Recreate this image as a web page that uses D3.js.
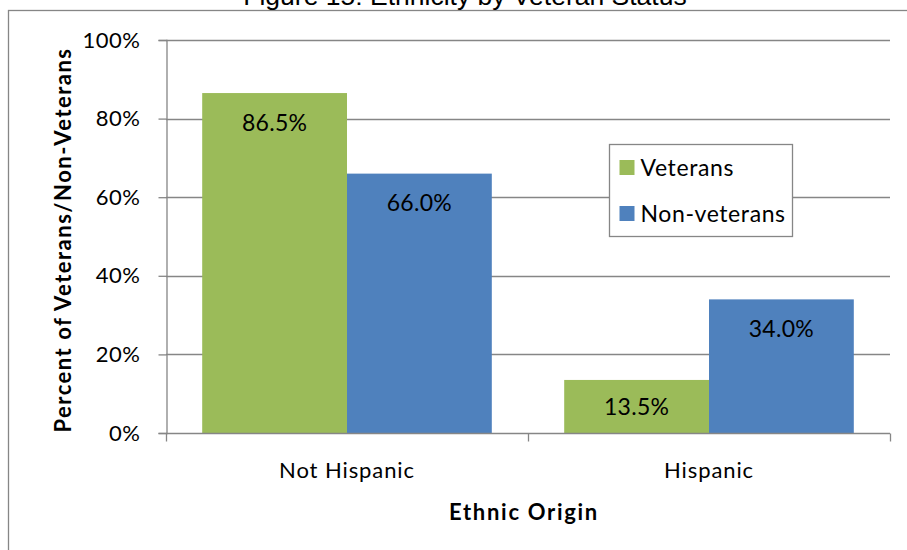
<!DOCTYPE html>
<html>
<head>
<meta charset="utf-8">
<script src="https://cdn.jsdelivr.net/npm/d3@7/dist/d3.min.js"></script>
<style>
  html, body { margin: 0; padding: 0; background: #fff; }
  svg { display: block; }
  text { font-family: Lato, "Open Sans", sans-serif; fill: #000; }
</style>
</head>
<body>
<svg id="chart" width="907" height="550"></svg>
<script>
// Share of each ethnic origin group, by veteran status
const categories = ["Not Hispanic", "Hispanic"];
const seriesNames = ["Veterans", "Non-veterans"];
const veterans = [86.5, 13.5];
const nonVeterans = [66.0, 34.0];
const yTicks = [0, 20, 40, 60, 80, 100];
const titleText = "Figure 15: Ethnicity by Veteran Status";
const yAxisTitle = "Percent of Veterans/Non-Veterans";
const xAxisTitle = "Ethnic Origin";

const colors = { "Veterans": "#9BBB59", "Non-veterans": "#4F81BD" };
const gridColor = "#868686";

const svg = d3.select("#chart");

// outer chart frame
svg.append("rect")
  .attr("x", 8.5).attr("y", 10.5)
  .attr("width", 1000).attr("height", 1000)
  .attr("fill", "none").attr("stroke", gridColor).attr("stroke-width", 1.3);

// title (partly clipped at the top edge)
svg.append("text")
  .attr("x", 465).attr("y", 5)
  .attr("text-anchor", "middle")
  .style("font-family", "'Liberation Sans', Arial, sans-serif")
  .style("font-size", "26.5px")
  .text(titleText);

const plot = { left: 166, right: 890, top: 40, bottom: 433 };

const y = d3.scaleLinear().domain([0, 100]).range([plot.bottom, plot.top]);
const x0 = d3.scaleBand().domain(categories).range([plot.left, plot.right]).padding(0);
const x1 = d3.scaleBand().domain(seriesNames)
  .range([x0.bandwidth() * 0.1, x0.bandwidth() * 0.9]).padding(0);

// horizontal gridlines
svg.append("g")
  .selectAll("line")
  .data(yTicks.filter(d => d > 0))
  .join("line")
  .attr("x1", plot.left).attr("x2", plot.right)
  .attr("y1", d => Math.round(y(d)) + 0.5).attr("y2", d => Math.round(y(d)) + 0.5)
  .attr("stroke", gridColor).attr("stroke-width", 1.3);

// y axis
const yAxis = svg.append("g")
  .attr("transform", `translate(${plot.left + 0.5},0)`)
  .call(d3.axisLeft(y).tickValues(yTicks).tickFormat(d => d + "%").tickSize(8).tickPadding(18));
yAxis.select(".domain").attr("stroke", gridColor).attr("stroke-width", 1.3);
yAxis.selectAll(".tick line").attr("stroke", gridColor).attr("stroke-width", 1.3);
yAxis.selectAll(".tick text")
  .style("font-family", "Lato, sans-serif").style("font-size", "22px")
  .style("letter-spacing", "0.5px").attr("fill", "#000");

// bars
const rows = categories.map((c, i) => ({
  category: c,
  values: [
    { series: "Veterans", value: veterans[i] },
    { series: "Non-veterans", value: nonVeterans[i] }
  ]
}));

const groups = svg.append("g")
  .selectAll("g")
  .data(rows)
  .join("g")
  .attr("transform", d => `translate(${x0(d.category)},0)`);

groups.selectAll("rect")
  .data(d => d.values)
  .join("rect")
  .attr("x", d => x1(d.series))
  .attr("width", x1.bandwidth())
  .attr("y", d => y(d.value))
  .attr("height", d => y(0) - y(d.value))
  .attr("fill", d => colors[d.series]);

// value labels at the inside end of each bar
groups.selectAll("text.value")
  .data(d => d.values)
  .join("text")
  .attr("class", "value")
  .attr("x", d => x1(d.series) + x1.bandwidth() / 2)
  .attr("y", d => Math.min(y(d.value) + 37.5, plot.bottom - 18))
  .attr("text-anchor", "middle")
  .style("font-size", "23px")
  .style("letter-spacing", "0.3px")
  .text(d => d.value.toFixed(1) + "%");

// x axis
const xAxis = svg.append("g")
  .attr("transform", `translate(0,${plot.bottom + 0.5})`);
xAxis.append("line")
  .attr("x1", plot.left).attr("x2", plot.right)
  .attr("stroke", gridColor).attr("stroke-width", 1.3);
const xTickPos = [plot.left, ...categories.slice(1).map(c => x0(c)), plot.right];
xAxis.selectAll("line.tick")
  .data(xTickPos)
  .join("line")
  .attr("class", "tick")
  .attr("x1", d => d + 0.5).attr("x2", d => d + 0.5)
  .attr("y1", 0).attr("y2", 8)
  .attr("stroke", gridColor).attr("stroke-width", 1.3);
xAxis.selectAll("text")
  .data(categories)
  .join("text")
  .attr("x", d => x0(d) + x0.bandwidth() / 2)
  .attr("y", 44)
  .attr("text-anchor", "middle")
  .style("font-size", "22px")
  .style("letter-spacing", "0.9px")
  .text(d => d);

// axis titles
svg.append("text")
  .attr("transform", `translate(70.5,${(plot.top + plot.bottom) / 2 + 3.5}) rotate(-90)`)
  .attr("text-anchor", "middle")
  .style("font-size", "22px").style("font-weight", "bold")
  .style("letter-spacing", "1.5px")
  .text(yAxisTitle);

svg.append("text")
  .attr("x", (plot.left + plot.right) / 2 - 4)
  .attr("y", 520)
  .attr("text-anchor", "middle")
  .style("font-size", "22px").style("font-weight", "bold")
  .style("letter-spacing", "1.7px")
  .text(xAxisTitle);

// legend
const legend = svg.append("g").attr("transform", "translate(609.5,144.5)");
legend.append("rect")
  .attr("width", 183).attr("height", 92)
  .attr("fill", "#fff").attr("stroke", gridColor).attr("stroke-width", 1.3);
const items = legend.selectAll("g.item")
  .data(seriesNames)
  .join("g")
  .attr("class", "item")
  .attr("transform", (d, i) => `translate(10,${15.5 + i * 46})`);
items.append("rect")
  .attr("width", 15).attr("height", 15)
  .attr("fill", d => colors[d]);
items.append("text")
  .attr("x", 21).attr("y", 15.5)
  .style("font-size", "23px")
  .style("letter-spacing", "0.6px")
  .text(d => d);
</script>
</body>
</html>
